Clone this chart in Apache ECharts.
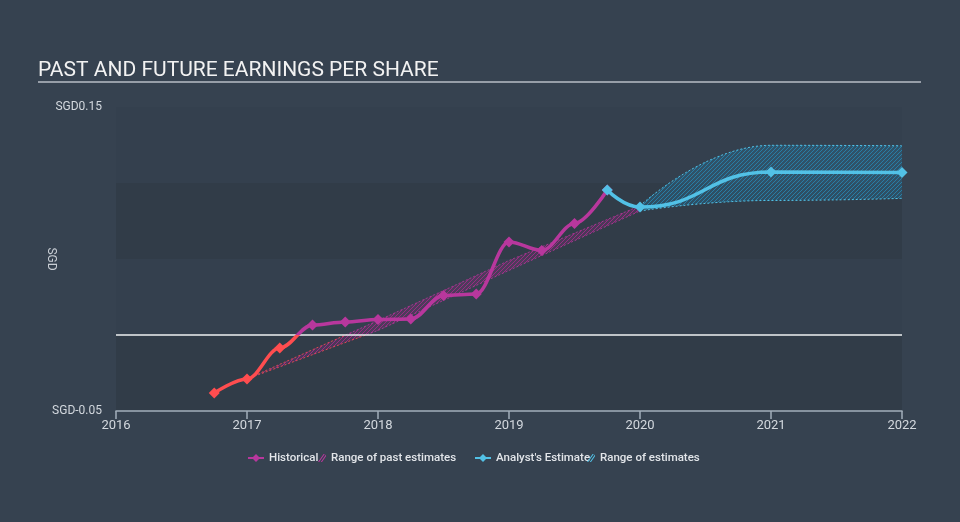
<!DOCTYPE html>
<html>
<head>
<meta charset="utf-8">
<script src="https://cdn.jsdelivr.net/npm/echarts@6/dist/echarts.min.js"></script>
<style>
html,body{margin:0;padding:0;background:#364250;}
#chart{width:960px;height:522px;}
</style>
</head>
<body>
<div id="chart"></div>
<script>
// ---- data ----
const histYears = [2016.75, 2017, 2017.25, 2017.5, 2017.75, 2018, 2018.25, 2018.5, 2018.75, 2019, 2019.25, 2019.5, 2019.75];
const histEps   = [-0.0382, -0.0289, -0.0086, 0.0066, 0.0086, 0.0102, 0.0105, 0.026, 0.027, 0.0612, 0.0556, 0.0734, 0.0954];
const analystYears = [2019.75, 2020, 2021, 2022];
const analystEps   = [0.0954, 0.0842, 0.1072, 0.1069];
const estYears = [2020, 2021, 2022];
const estLow   = [0.0816, 0.0885, 0.0899];
const estHigh  = [0.085, 0.1248, 0.1245];
const pastYears = [2017, 2018, 2019, 2020];
const pastLow   = [-0.0289, 0.003, 0.0425, 0.0816];
const pastHigh  = [-0.0289, 0.0095, 0.049, 0.085];
const yLabelValues = [-0.05, 0.15];
const yTickLabels  = ['SGD-0.05', 'SGD0.15'];

const RED = '#ff4d4f', MAG = '#b8379d', BLUE = '#52c1e6';
const FONT = 'Roboto';

function hatch(line, bg){
  const c = document.createElement('canvas');
  c.width = 4; c.height = 4;
  const g = c.getContext('2d');
  g.fillStyle = bg; g.fillRect(0, 0, 4, 4);
  g.strokeStyle = line; g.lineWidth = 1;
  g.beginPath();
  g.moveTo(0,4); g.lineTo(4,0);
  g.moveTo(-1,1); g.lineTo(1,-1);
  g.moveTo(3,5); g.lineTo(5,3);
  g.stroke();
  return c;
}
const pair = (xs, ys) => xs.map((x,i)=>[x, ys[i]]);
// stacked series: value first (so the stack runs on the y dimension), year second
const vpair = (xs, ys) => xs.map((x,i)=>[ys[i], x]);
const vdiff = (xs, hi, lo) => xs.map((x,i)=>[+(hi[i]-lo[i]).toFixed(5), x]);
const HATCH_ICON = 'path://M0,10L7,0L8.5,0L1.5,10Z M3.5,10L10,0.7L10,2.8L5,10Z';
const legendText = {color: '#e2e5e9', fontSize: 11.5, fontWeight: 500};

const chart = echarts.init(document.getElementById('chart'), null, {renderer:'canvas'});
chart.setOption({
  backgroundColor: '#364250',
  animation: false,
  textStyle: {fontFamily: FONT},
  title: {
    text: 'PAST AND FUTURE EARNINGS PER SHARE',
    left: 33, top: 55,
    textStyle: {color: '#f2f2f2', fontSize: 21, fontWeight: 'normal', fontFamily: FONT}
  },
  graphic: [{
    type: 'line', shape: {x1: 38, y1: 82, x2: 921, y2: 82},
    style: {stroke: '#b8bec6', lineWidth: 1.5}, silent: true
  }],
  grid: {left: 116, right: 58, top: 107, bottom: 111},
  xAxis: {
    type: 'value', min: 2016, max: 2022, interval: 1,
    axisLine: {onZero: false, lineStyle: {color: '#a3aeba', width: 1.5}},
    axisTick: {length: 8, lineStyle: {color: '#a3aeba', width: 1.5}},
    splitLine: {show: false},
    axisLabel: {color: '#d3d8de', fontSize: 13, margin: 8, formatter: v => String(v)}
  },
  yAxis: {
    type: 'value', min: -0.05, max: 0.15, interval: 0.05,
    name: 'SGD', nameLocation: 'middle', nameGap: 59, nameRotate: -90, nameMoveOverlap: false,
    nameTextStyle: {color: '#c9ced5', fontSize: 12},
    axisLine: {show: false}, axisTick: {show: false},
    splitLine: {show: false},
    splitArea: {show: true, areaStyle: {color: ['rgba(0,0,0,0.09)', 'rgba(0,0,0,0.02)']}},
    axisLabel: {
      color: '#d3d8de', fontSize: 12, margin: 14,
      formatter: v => {
        for (let i = 0; i < yLabelValues.length; i++) if (Math.abs(v - yLabelValues[i]) < 1e-6) return yTickLabels[i];
        return '';
      }
    }
  },
  visualMap: {
    type: 'piecewise', show: false, dimension: 1, seriesIndex: [0, 3, 4],
    pieces: [{gte: -1, lt: 0, color: RED}, {gte: 0, lte: 1, color: MAG}]
  },
  legend: [
    {data: ['Historical'], left: 242, top: 447, itemWidth: 16, itemHeight: 10, textStyle: legendText, selectedMode: false},
    {data: [{name: 'Range of past estimates', icon: HATCH_ICON, itemStyle: {color: MAG}}], left: 313, top: 447, itemWidth: 8, itemHeight: 10,
     textStyle: legendText, selectedMode: false},
    {data: ["Analyst's Estimate"], left: 469, top: 447, itemWidth: 16, itemHeight: 10, textStyle: legendText, selectedMode: false},
    {data: [{name: 'Range of estimates', icon: HATCH_ICON, itemStyle: {color: BLUE}}], left: 582, top: 447, itemWidth: 8, itemHeight: 10,
     textStyle: legendText, selectedMode: false}
  ],
  series: [
    {
      name: 'Historical', type: 'line', data: pair(histYears, histEps), z: 5,
      smooth: 0.35, smoothMonotone: 'x',
      symbol: 'diamond', symbolSize: 11, showSymbol: true,
      itemStyle: {color: MAG}, lineStyle: {width: 3.5}
    },
    {
      name: 'pastBase', type: 'line', stack: 'past', silent: true, z: 2,
      data: vpair(pastYears, pastLow), encode: {x: 1, y: 0}, symbol: 'none', showSymbol: false,
      lineStyle: {width: 0, opacity: 0}
    },
    {
      name: 'Range of past estimates', type: 'line', stack: 'past', silent: true, z: 2,
      data: vdiff(pastYears, pastHigh, pastLow), encode: {x: 1, y: 0}, symbol: 'none', showSymbol: false,
      itemStyle: {color: MAG}, lineStyle: {width: 0, opacity: 0},
      areaStyle: {color: {image: hatch('rgb(150,45,130)', 'rgba(150,45,130,0.25)'), repeat: 'repeat'}, opacity: 1}
    },
    {
      name: 'pastLow', type: 'line', silent: true, z: 3,
      data: pair(pastYears, pastLow), symbol: 'none', showSymbol: false,
      lineStyle: {width: 1, type: [2, 2], opacity: 0.8}
    },
    {
      name: 'pastHigh', type: 'line', silent: true, z: 3,
      data: pair(pastYears, pastHigh), symbol: 'none', showSymbol: false,
      lineStyle: {width: 1, type: [2, 2], opacity: 0.8}
    },
    {
      name: 'estLow', type: 'line', stack: 'est', silent: true, z: 2,
      data: vpair(estYears, estLow), encode: {x: 1, y: 0}, symbol: 'none', showSymbol: false,
      smooth: 0.5, smoothMonotone: 'x',
      itemStyle: {color: BLUE}, lineStyle: {width: 1, type: [2, 2], color: BLUE}
    },
    {
      name: 'Range of estimates', type: 'line', stack: 'est', silent: true, z: 2,
      data: vdiff(estYears, estHigh, estLow), encode: {x: 1, y: 0}, symbol: 'none', showSymbol: false,
      smooth: 0.5, smoothMonotone: 'x',
      itemStyle: {color: BLUE}, lineStyle: {width: 1, type: [2, 2], color: BLUE},
      areaStyle: {color: {image: hatch('rgb(40,125,165)', 'rgba(40,125,165,0.3)'), repeat: 'repeat'}, opacity: 1}
    },
    {
      name: "Analyst's Estimate", type: 'line', data: pair(analystYears, analystEps), z: 6,
      smooth: 0.5, smoothMonotone: 'x',
      symbol: 'diamond', symbolSize: 11,
      itemStyle: {color: BLUE}, lineStyle: {width: 3.5, color: BLUE},
      markLine: {
        silent: true, symbol: 'none', label: {show: false},
        lineStyle: {color: '#eef0f2', width: 1.5, type: 'solid'},
        data: [{yAxis: 0}]
      }
    }
  ]
});
</script>
</body>
</html>
